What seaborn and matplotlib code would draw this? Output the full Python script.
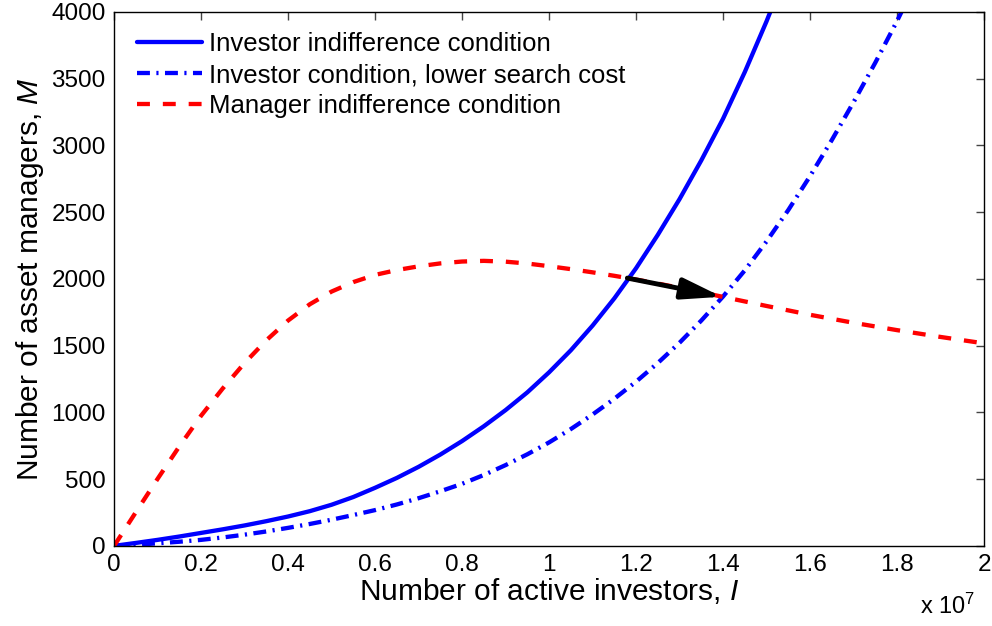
"""
Investor / manager indifference conditions (equilibrium shift with lower search cost)
"""
import numpy as np
import pandas as pd
import matplotlib
matplotlib.use("Agg")
import matplotlib.pyplot as plt
from matplotlib.ticker import FuncFormatter, MultipleLocator
import seaborn as sns

# ------------------------------------------------------------------
# Data (x in units of 1e7 active investors, y = number of asset managers)
# ------------------------------------------------------------------
inv_x = [0, 0.05, 0.1, 0.15, 0.2, 0.25, 0.3, 0.35, 0.4, 0.45, 0.5, 0.55, 0.6, 0.65,
         0.7, 0.75, 0.8, 0.85, 0.9, 0.95, 1.0, 1.05, 1.1, 1.15, 1.2, 1.25, 1.3,
         1.35, 1.4, 1.45, 1.5, 1.55]
inv_m = [0, 22, 45, 70, 97, 124, 153, 185, 220, 260, 308, 366, 435, 509,
         592, 684, 785, 896, 1017, 1150, 1300, 1465, 1650, 1854, 2080, 2330, 2598,
         2888, 3200, 3550, 3930, 4340]

low_x = [0, 0.05, 0.1, 0.15, 0.2, 0.25, 0.3, 0.35, 0.4, 0.45, 0.5, 0.55, 0.6, 0.65,
         0.7, 0.75, 0.8, 0.85, 0.9, 0.95, 1.0, 1.05, 1.1, 1.15, 1.2, 1.25, 1.3,
         1.35, 1.4, 1.45, 1.5, 1.55, 1.6, 1.65, 1.7, 1.75, 1.8, 1.85]
low_m = [0, 9, 19, 31, 45, 63, 84, 108, 135, 164, 196, 231, 268, 310,
         357, 409, 465, 531, 605, 686, 775, 875, 984, 1102, 1230, 1370, 1522,
         1688, 1868, 2064, 2281, 2516, 2770, 3040, 3324, 3620, 3932, 4267]

mgr_x = [0, 0.05, 0.1, 0.15, 0.2, 0.25, 0.3, 0.35, 0.4, 0.45, 0.5, 0.55, 0.6, 0.65,
         0.7, 0.75, 0.8, 0.85, 0.9, 0.95, 1.0, 1.05, 1.1, 1.15, 1.2, 1.25, 1.3,
         1.35, 1.4, 1.5, 1.6, 1.7, 1.8, 1.9, 2.0]
mgr_m = [0, 252, 502, 745, 975, 1180, 1370, 1540, 1688, 1810, 1905, 1976, 2030, 2066,
         2094, 2116, 2130, 2135, 2129, 2115, 2095, 2073, 2049, 2023, 1995, 1965, 1933,
         1900, 1865, 1797, 1731, 1671, 1616, 1565, 1517]

# equilibrium before / after the drop in search cost
eq_old = (1.18, 2006)
eq_new = (1.397, 1866)

labels = ["Investor indifference condition",
          "Investor condition, lower search cost",
          "Manager indifference condition"]

# ------------------------------------------------------------------
# Style
# ------------------------------------------------------------------
sns.set_theme(style="white")
plt.rcParams["font.family"] = ["Liberation Sans", "DejaVu Sans"]
plt.rcParams["mathtext.fontset"] = "custom"
plt.rcParams["mathtext.rm"] = "Liberation Sans"
plt.rcParams["mathtext.it"] = "Liberation Sans:italic"
for key in ["text.color", "axes.labelcolor", "xtick.color", "ytick.color"]:
    plt.rcParams[key] = "black"

fig = plt.figure(figsize=(9.92, 6.26), dpi=100)
ax = fig.add_axes([0.115, 0.128, 0.877, 0.853])

lw = 3.1
sns.lineplot(x=inv_x, y=inv_m, ax=ax, color="#0000ff", lw=lw, label=labels[0],
             sort=False, estimator=None)
sns.lineplot(x=low_x, y=low_m, ax=ax, color="#0000ff", lw=lw, label=labels[1],
             linestyle=(0, (3.0, 1.5, 0.5, 1.5)), sort=False, estimator=None)
sns.lineplot(x=mgr_x, y=mgr_m, ax=ax, color="#ff0000", lw=lw, label=labels[2],
             linestyle=(0, (3.0, 3.0)), sort=False, estimator=None)

ax.annotate("", xy=eq_new, xytext=eq_old,
            arrowprops=dict(arrowstyle="-|>,head_length=1.2,head_width=0.32",
                            mutation_scale=20, lw=3.5, color="black",
                            shrinkA=0, shrinkB=0))

ax.set_xlim(0, 2)
ax.set_ylim(0, 4000)
ax.xaxis.set_major_locator(MultipleLocator(0.2))
ax.yaxis.set_major_locator(MultipleLocator(500))
ax.xaxis.set_major_formatter(FuncFormatter(lambda v, p: f"{v:g}"))
ax.yaxis.set_major_formatter(FuncFormatter(lambda v, p: f"{v:g}"))
ax.tick_params(direction="in", length=6, width=1, color="#444444", labelsize=17.5,
               labelcolor="black", top=True, right=True, pad=6)
for s in ax.spines.values():
    s.set_color("black")
    s.set_linewidth(1.0)

ax.set_xlabel("Number of active investors, $I$", fontsize=21.5, labelpad=0)
ax.set_ylabel("Number of asset managers, $M$", fontsize=21.5, labelpad=4)
fig.text(0.983, 0.012, r"x 10$^7$", fontsize=17, ha="right", va="bottom")

ax.legend(loc="upper left", frameon=False, fontsize=18.5, handlelength=2.5,
          handletextpad=0.3, labelspacing=0.28, borderaxespad=0.3,
          bbox_to_anchor=(0.006, 0.996))

fig.savefig("out.png", dpi=100)
